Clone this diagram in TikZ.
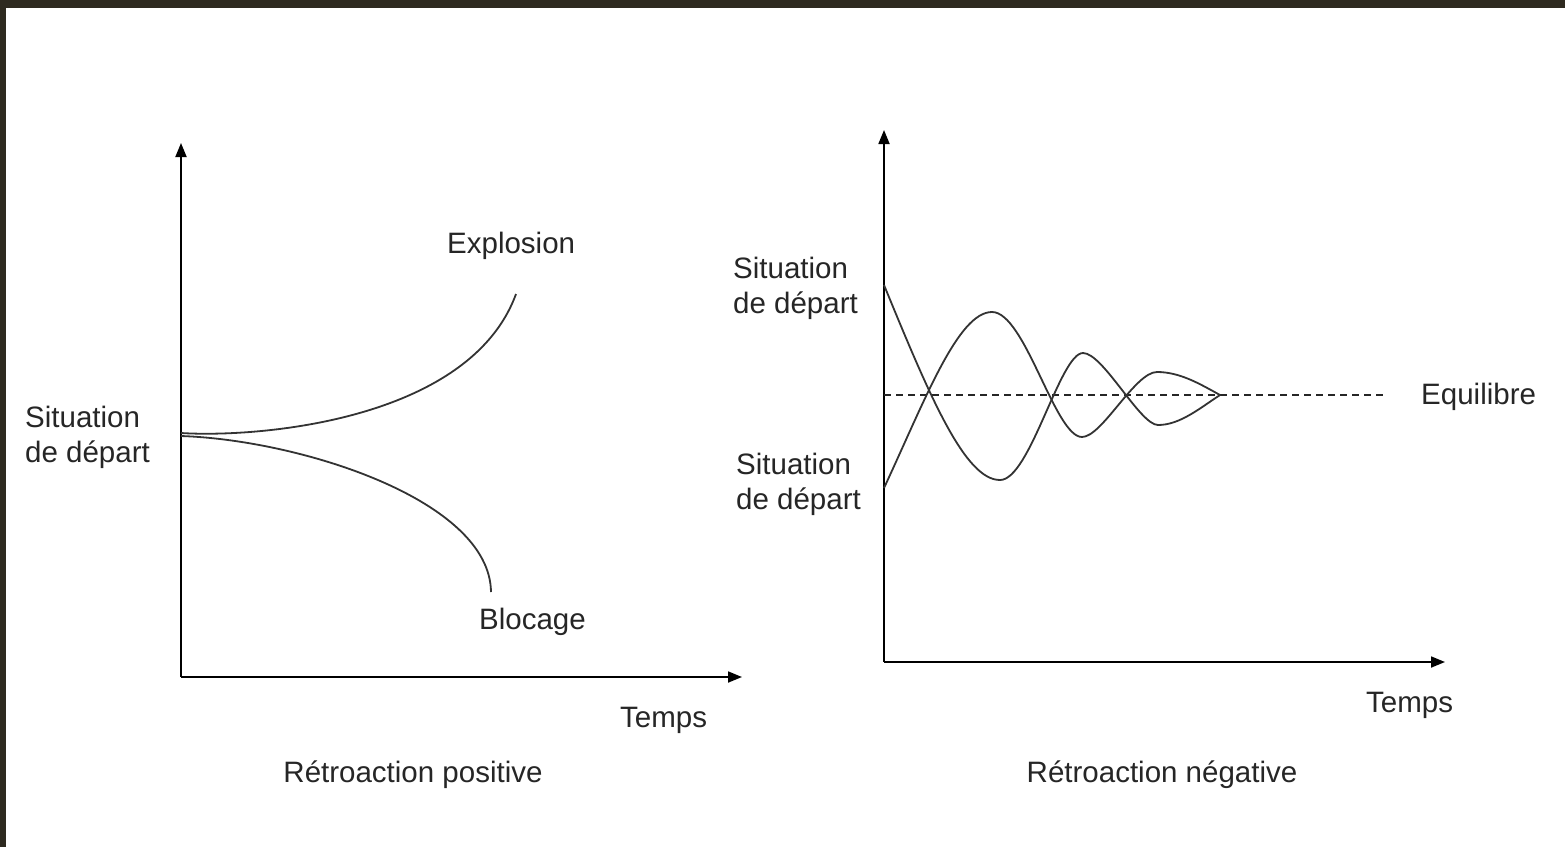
\documentclass[tikz,border=0pt]{standalone}
\usepackage{fontspec}
\setmainfont{Liberation Sans}
\usetikzlibrary{arrows.meta}
\begin{document}
\begin{tikzpicture}[x=1pt,y=-1pt,
  axis/.style={line width=1.8pt,black,-{Triangle[length=14pt,width=11pt]}},
  curve/.style={line width=1.8pt,black!80},
  lbl/.style={font=\fontsize{29.5}{35}\selectfont,text=black!85,inner sep=0pt,align=left},
  eq/.style={line width=1.5pt,black!85,dash pattern=on 7pt off 5pt}]
\fill[fill={rgb,255:red,46;green,42;blue,32}] (0,0) rectangle (1565,847);
\fill[white] (6,8) rectangle (1565,847);
\useasboundingbox (0,0) rectangle (1565,847);
% left plot
\coordinate (O1) at (181,677);
\coordinate (Y1) at (181,143);
\coordinate (X1) at (742,677);
\draw[axis] (O1) -- (Y1);
\draw[axis] (O1) -- (X1);
\coordinate (S1) at (181,433);
\coordinate (S2) at (181,436);
\coordinate (E1) at (516,294);
\coordinate (B1) at (491,592);
\draw[curve] (S1) .. controls (260,438) and (470,420) .. (E1);
\draw[curve] (S2) .. controls (300,440) and (490,500) .. (B1);
\node[lbl,anchor=west] (expl) at (447,246) {Explosion};
\node[lbl,anchor=west] (blk) at (479,622) {Blocage};
\node[lbl,anchor=west] (sit1) at (25,437) {Situation\\de départ};
\node[lbl,anchor=west] (t1) at (620,720) {Temps};
\node[lbl] (rp) at (413,775) {Rétroaction positive};
% right plot
\coordinate (O2) at (884,662);
\coordinate (Y2) at (884,130);
\coordinate (X2) at (1445,662);
\draw[axis] (O2) -- (Y2);
\draw[axis] (O2) -- (X2);
\coordinate (Q0) at (884,395);
\coordinate (Q1) at (1385,395);
\draw[eq] (Q0) -- (Q1);
\coordinate (A0) at (884,285);
\coordinate (B0) at (884,488);
\coordinate (End) at (1220,395);
\draw[curve] (A0) .. controls (930,397) and (965,480) .. (1000,480)
  .. controls (1030,480) and (1060,353) .. (1083,353)
  .. controls (1103,353) and (1140,425) .. (1158,425)
  .. controls (1180,425) and (1200,408) .. (End);
\draw[curve] (B0) .. controls (925,400) and (958,312) .. (992,312)
  .. controls (1025,312) and (1055,437) .. (1082,437)
  .. controls (1102,437) and (1135,372) .. (1157,372)
  .. controls (1180,372) and (1200,384) .. (End);
\node[lbl,anchor=west] (sit2) at (733,288) {Situation\\de départ};
\node[lbl,anchor=west] (sit3) at (736,484) {Situation\\de départ};
\node[lbl,anchor=west] (eqb) at (1421,397) {Equilibre};
\node[lbl,anchor=west] (t2) at (1366,705) {Temps};
\node[lbl] (rn) at (1162,775) {Rétroaction négative};
\end{tikzpicture}
\end{document}
